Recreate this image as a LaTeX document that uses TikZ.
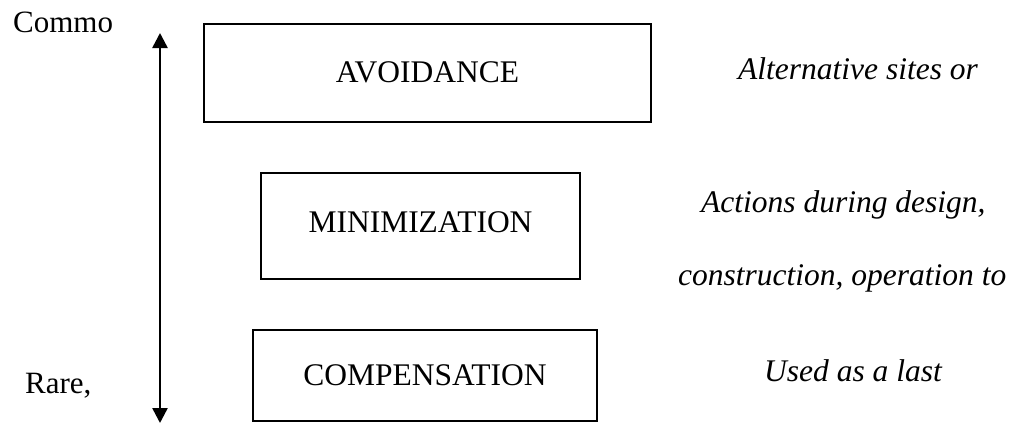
\documentclass[tikz,border=0pt]{standalone}
\usepackage{fontspec}
\setmainfont{Liberation Serif}
\usetikzlibrary{arrows.meta}
\tikzset{
  lvl/.style={draw, line width=2.5pt, rectangle, inner sep=0pt, font=\fontsize{31.5}{36}\selectfont},
  note/.style={inner sep=0pt, anchor=base west, font=\fontsize{31.5}{36}\selectfont\itshape},
  side/.style={inner sep=0pt, anchor=base west, font=\fontsize{31}{36}\selectfont},
  axis/.style={line width=2.5pt, {Triangle[width=15pt,length=15pt]}-{Triangle[width=15pt,length=15pt]}}
}
\begin{document}
\begin{tikzpicture}[x=1pt,y=-1pt]
\useasboundingbox (0,0) rectangle (1019,423);
\node[side] (common) at (13,32) {Commo};
\node[side] (rare) at (25,393) {Rare,};
\coordinate (atop) at (160,33);
\coordinate (abot) at (160,423);
\draw[axis] (atop) -- (abot);
\node[lvl, minimum width=447pt, minimum height=98pt] (avoid) at (427.5,73) {\raisebox{2pt}{AVOIDANCE}};
\node[lvl, minimum width=319pt, minimum height=106pt] (mini) at (420.5,226) {\raisebox{8pt}{MINIMIZATION}};
\node[lvl, minimum width=344pt, minimum height=91pt] (comp) at (425,375.5) {COMPENSATION};
\node[note] (n1) at (738,79) {Alternative sites or};
\node[note] (n2) at (701,212) {Actions during design,};
\node[note] (n3) at (678,285) {construction, operation to};
\node[note] (n4) at (764,381) {Used as a last};
\end{tikzpicture}
\end{document}
